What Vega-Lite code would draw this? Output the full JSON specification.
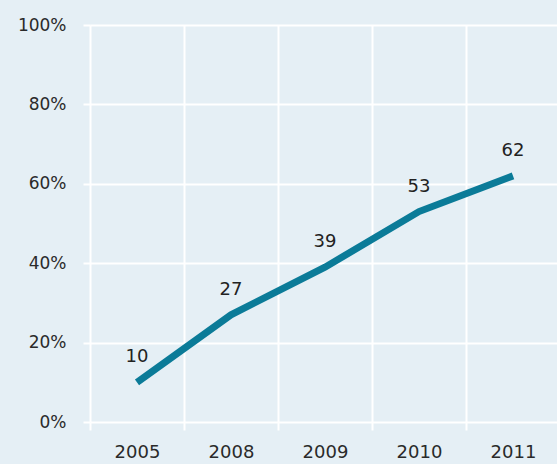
{
  "$schema": "https://vega.github.io/schema/vega-lite/v6.json",
  "autosize": {"type": "none"},
  "padding": {"left": 90, "top": 25, "right": 0, "bottom": 42},
  "width": 470,
  "height": 397,
  "background": "#e5eff5",
  "config": {
    "view": {"stroke": null},
    "font": "DejaVu Sans"
  },
  "data": {
    "values": [
      {"year": "2005", "value": 10},
      {"year": "2008", "value": 27},
      {"year": "2009", "value": 39},
      {"year": "2010", "value": 53},
      {"year": "2011", "value": 62}
    ]
  },
  "encoding": {
    "x": {
      "field": "year", "type": "ordinal",
      "scale": {"paddingInner": 0, "paddingOuter": 0},
      "axis": {
        "title": null, "labelAngle": 0, "domain": false,
        "tickBand": "extent", "grid": true, "gridColor": "#ffffff", "gridWidth": 2,
        "tickColor": "#ffffff", "tickWidth": 2, "tickSize": 8,
        "labelFontSize": 18, "labelColor": "#2a2a2a", "labelPadding": 13
      }
    },
    "y": {
      "field": "value", "type": "quantitative",
      "scale": {"domain": [0, 100]},
      "axis": {
        "title": null, "values": [0, 20, 40, 60, 80, 100],
        "labelExpr": "datum.value + '%'",
        "domain": false, "grid": true, "gridColor": "#ffffff", "gridWidth": 2,
        "tickColor": "#ffffff", "tickWidth": 2, "tickSize": 7,
        "labelFontSize": 17, "labelColor": "#2a2a2a", "labelPadding": 17
      }
    }
  },
  "layer": [
    {
      "mark": {"type": "line", "color": "#0b7b98", "strokeWidth": 7, "strokeCap": "butt"}
    },
    {
      "mark": {"type": "text", "dy": -25, "fontSize": 18, "color": "#222222"},
      "encoding": {"text": {"field": "value", "type": "quantitative"}}
    }
  ]
}
